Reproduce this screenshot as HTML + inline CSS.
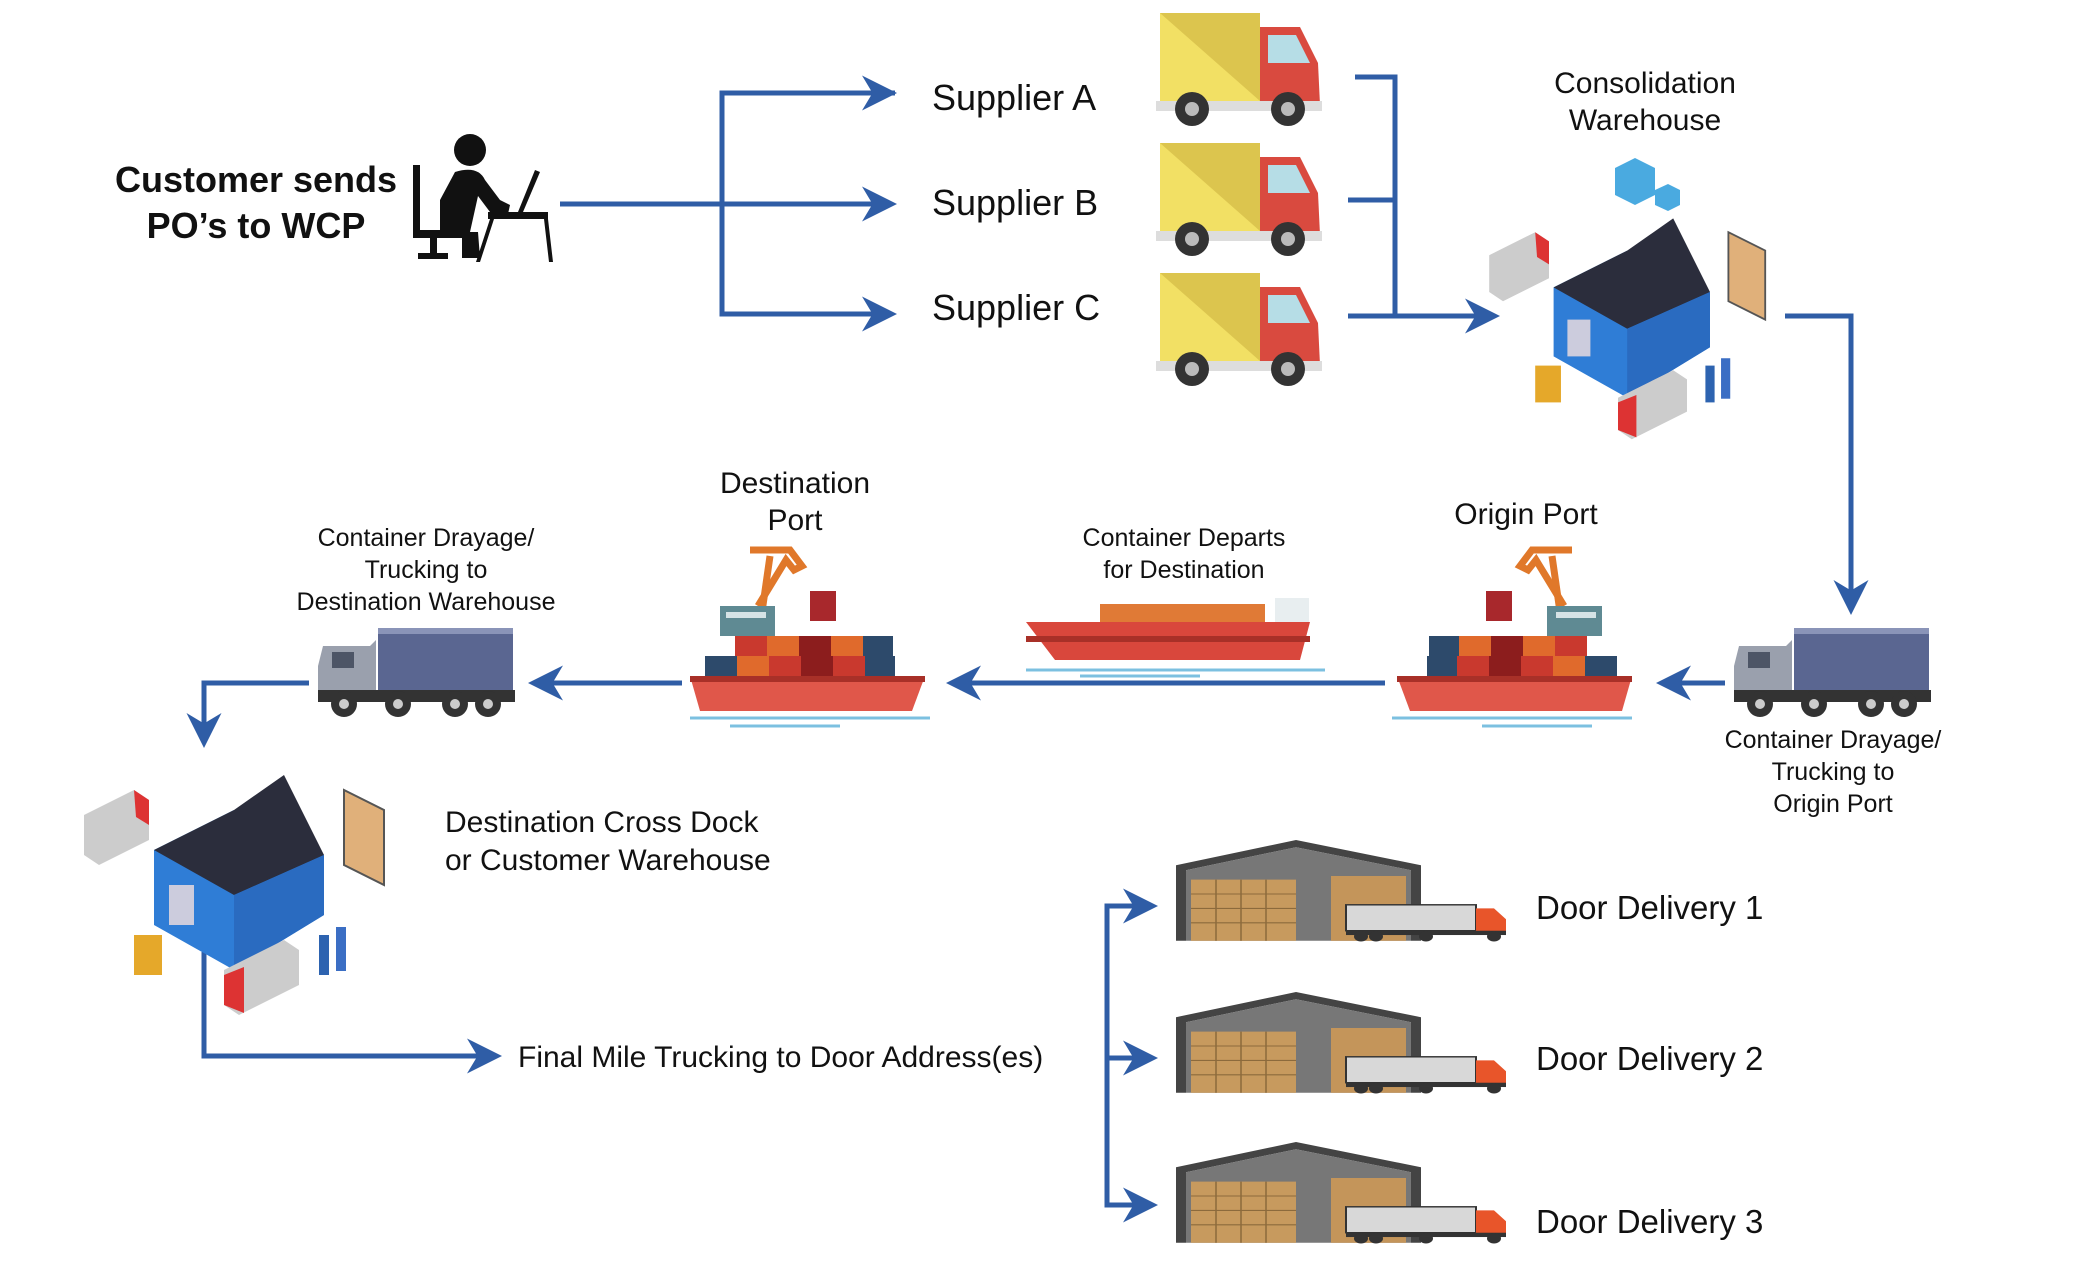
<!DOCTYPE html>
<html><head><meta charset="utf-8"><style>
html,body{margin:0;padding:0;background:#fff;}
svg{display:block}
text{font-family:"Liberation Sans",sans-serif;fill:#111;}
</style></head><body>
<svg width="2078" height="1268" viewBox="0 0 2078 1268" xmlns="http://www.w3.org/2000/svg">
<defs>
<marker id="ah" viewBox="0 0 20 20" refX="16" refY="10" markerWidth="7" markerHeight="7" markerUnits="strokeWidth" orient="auto">
<path d="M0,0 L20,10 L0,20 L6,10 Z" fill="#2f5da6"/>
</marker>
<g id="ytruck">
<rect x="0" y="0" width="100" height="88" fill="#f2e064"/>
<path d="M0,0 L100,0 L100,88 Z" fill="#dcc54e"/>
<path d="M100,14 L140,14 L158,50 L160,92 L100,92 Z" fill="#d94a3f"/>
<path d="M108,22 L136,22 L150,50 L108,50 Z" fill="#b6dde6"/>
<rect x="-4" y="88" width="166" height="10" fill="#ddd"/>
<circle cx="32" cy="96" r="17" fill="#333"/><circle cx="32" cy="96" r="7" fill="#bbb"/>
<circle cx="128" cy="96" r="17" fill="#333"/><circle cx="128" cy="96" r="7" fill="#bbb"/>
</g>
<g id="gtruck">
<rect x="60" y="0" width="135" height="62" fill="#5a6691"/>
<rect x="60" y="0" width="135" height="6" fill="#8a94b8"/>
<path d="M5,18 L52,18 L58,12 L58,68 L0,68 L0,38 Z" fill="#9aa0ad"/>
<rect x="14" y="24" width="22" height="16" fill="#4d5566"/>
<rect x="0" y="62" width="197" height="12" fill="#333"/>
<g fill="#333"><circle cx="26" cy="76" r="13"/><circle cx="80" cy="76" r="13"/><circle cx="137" cy="76" r="13"/><circle cx="170" cy="76" r="13"/></g>
<g fill="#ccc"><circle cx="26" cy="76" r="5"/><circle cx="80" cy="76" r="5"/><circle cx="137" cy="76" r="5"/><circle cx="170" cy="76" r="5"/></g>
</g>
<g id="ship">
<path d="M60,4 L100,4 L112,20 L104,24 L96,14 L68,60" stroke="#e0782a" stroke-width="7" fill="none"/>
<path d="M80,10 L70,80" stroke="#e0782a" stroke-width="7"/>
<rect x="120" y="45" width="26" height="30" fill="#a8282c"/>
<rect x="30" y="60" width="55" height="30" fill="#5f8a93"/>
<rect x="36" y="66" width="40" height="6" fill="#d6e3e6"/>
<g>
<rect x="45" y="90" width="32" height="20" fill="#c9392e"/><rect x="77" y="90" width="32" height="20" fill="#e06a2c"/><rect x="109" y="90" width="32" height="20" fill="#8c1d1d"/><rect x="141" y="90" width="32" height="20" fill="#e06a2c"/><rect x="173" y="90" width="30" height="20" fill="#2d4a6b"/>
<rect x="15" y="110" width="32" height="20" fill="#2d4a6b"/><rect x="47" y="110" width="32" height="20" fill="#e06a2c"/><rect x="79" y="110" width="32" height="20" fill="#c9392e"/><rect x="111" y="110" width="32" height="20" fill="#8c1d1d"/><rect x="143" y="110" width="32" height="20" fill="#c9392e"/><rect x="175" y="110" width="30" height="20" fill="#2d4a6b"/>
</g>
<path d="M0,130 L235,130 L222,165 L10,165 Z" fill="#e0574a"/>
<rect x="0" y="130" width="235" height="6" fill="#a83028"/>
<path d="M0,172 L240,172 M40,180 L150,180" stroke="#7cc0e0" stroke-width="3"/>
</g>
<g id="wh">
<path d="M80,95 L160,55 L250,100 L250,160 L160,215 L80,170 Z" fill="#2f7dd6"/>
<path d="M80,95 L160,55 L210,20 L250,100 L160,140 Z" fill="#2b2d3c"/>
<path d="M160,140 L250,100 L250,160 L160,215 Z" fill="#2a6bc0"/>
<rect x="95" y="130" width="25" height="40" fill="#ccd"/>
<path d="M10,60 L60,35 L75,45 L75,85 L25,110 L10,100 Z" fill="#ccc"/><path d="M60,35 L75,45 L75,70 L62,62 Z" fill="#d33"/>
<path d="M270,35 L310,55 L310,130 L270,110 Z" fill="#e0b07a" stroke="#555" stroke-width="2"/>
<path d="M150,215 L210,185 L225,195 L225,230 L165,260 L150,250 Z" fill="#ccc"/><path d="M150,220 L170,212 L170,258 L150,250 Z" fill="#d33"/>
<rect x="60" y="180" width="28" height="40" fill="#e5a82a"/>
<rect x="245" y="180" width="10" height="40" fill="#2d63b0"/><rect x="262" y="172" width="10" height="44" fill="#3b6ec4"/>
</g>
<g id="door">
<path d="M0,35 L120,0 L245,35 L245,140 L235,140 L235,42 L120,10 L10,42 L10,140 L0,140 Z" fill="#444"/>
<path d="M10,42 L120,10 L235,42 L235,140 L10,140 Z" fill="#777"/>
<rect x="15" y="55" width="105" height="85" fill="#c79a5e"/>
<rect x="155" y="50" width="75" height="90" fill="#c4955a"/>
<g stroke="#8c6a3c" stroke-width="1.5"><path d="M15,75 H120 M15,95 H120 M15,115 H120 M40,55 V140 M65,55 V140 M90,55 V140"/></g>
<rect x="170" y="90" width="130" height="36" fill="#d8d8d8" stroke="#333" stroke-width="2"/>
<path d="M300,95 L318,95 L330,110 L330,128 L300,128 Z" fill="#e8552a"/>
<rect x="170" y="126" width="160" height="6" fill="#333"/>
<g fill="#333"><circle cx="185" cy="134" r="7"/><circle cx="200" cy="134" r="7"/><circle cx="250" cy="134" r="7"/><circle cx="318" cy="134" r="7"/></g>
</g>
</defs>

<!-- connectors -->
<g stroke="#2f5da6" stroke-width="5" fill="none">
<path d="M560,204 H890" marker-end="url(#ah)"/>
<path d="M895,93 H722 V314 H890" marker-end="url(#ah)"/>
<path d="M722,93 H890" marker-end="url(#ah)"/>
<path d="M1355,77 H1395 V316" />
<path d="M1348,200 H1395"/>
<path d="M1348,316 H1493" marker-end="url(#ah)"/>
<path d="M1785,316 H1851 V608" marker-end="url(#ah)"/>
<path d="M1725,683 H1663" marker-end="url(#ah)"/>
<path d="M1385,683 H953" marker-end="url(#ah)"/>
<path d="M682,683 H535" marker-end="url(#ah)"/>
<path d="M309,683 H204 V741" marker-end="url(#ah)"/>
<path d="M204,952 V1056 H495" marker-end="url(#ah)"/>
<path d="M1151,906 H1107 V1205 H1151" marker-end="url(#ah)"/>
<path d="M1107,1058 H1151" marker-end="url(#ah)"/>
<path d="M1107,906 H1151" marker-end="url(#ah)"/>
</g>

<!-- customer -->
<text x="256" y="192" font-size="36" font-weight="bold" text-anchor="middle">Customer sends</text>
<text x="256" y="238" font-size="36" font-weight="bold" text-anchor="middle">PO’s to WCP</text>
<g fill="#111">
<circle cx="470" cy="150" r="16"/>
<path d="M455,172 Q478,165 485,180 L500,200 L510,205 L508,214 L490,212 L478,196 L470,232 L478,232 L480,258 L462,258 L462,238 L440,238 L440,200 Z"/>
<rect x="413" y="165" width="7" height="70"/>
<rect x="413" y="230" width="45" height="8"/><rect x="430" y="235" width="7" height="22"/><rect x="418" y="253" width="30" height="6"/>
<rect x="488" y="212" width="60" height="7"/>
<path d="M535,170 L540,172 L523,212 L518,212 Z"/>
<path d="M490,219 L494,219 L480,262 L476,262 Z M544,219 L548,219 L553,262 L549,262 Z"/>
</g>

<!-- suppliers -->
<text x="932" y="110" font-size="36">Supplier A</text>
<text x="932" y="215" font-size="36">Supplier B</text>
<text x="932" y="320" font-size="36">Supplier C</text>
<use href="#ytruck" x="1160" y="13"/>
<use href="#ytruck" x="1160" y="143"/>
<use href="#ytruck" x="1160" y="273"/>

<text x="1645" y="93" font-size="30" text-anchor="middle">Consolidation</text>
<text x="1645" y="130" font-size="30" text-anchor="middle">Warehouse</text>
<path d="M1615,168 L1635,158 L1655,168 L1655,195 L1635,205 L1615,195 Z" fill="#4aaae0"/>
<path d="M1655,190 L1668,184 L1680,190 L1680,205 L1668,211 L1655,205 Z" fill="#4aaae0"/>
<use href="#wh" x="1480" y="200" transform="translate(1480 200) scale(0.92) translate(-1480 -200)"/>

<use href="#gtruck" x="1734" y="628"/>
<text x="1833" y="748" font-size="25" text-anchor="middle">Container Drayage/</text>
<text x="1833" y="780" font-size="25" text-anchor="middle">Trucking to</text>
<text x="1833" y="812" font-size="25" text-anchor="middle">Origin Port</text>

<text x="1526" y="524" font-size="30" text-anchor="middle">Origin Port</text>
<g transform="translate(1632 546) scale(-1 1)"><use href="#ship"/></g>

<text x="1184" y="546" font-size="25" text-anchor="middle">Container Departs</text>
<text x="1184" y="578" font-size="25" text-anchor="middle">for Destination</text>
<path d="M1026,622 L1310,622 L1300,660 L1055,660 Z" fill="#d9473c"/>
<rect x="1026" y="636" width="284" height="6" fill="#a83028"/>
<rect x="1100" y="604" width="165" height="18" fill="#e07a36"/>
<rect x="1275" y="598" width="34" height="24" fill="#e8eef0"/>
<path d="M1026,670 L1325,670 M1080,676 L1200,676" stroke="#7cc0e0" stroke-width="3"/>

<text x="795" y="493" font-size="30" text-anchor="middle">Destination</text>
<text x="795" y="530" font-size="30" text-anchor="middle">Port</text>
<use href="#ship" x="690" y="546"/>

<use href="#gtruck" x="318" y="628"/>
<text x="426" y="546" font-size="25" text-anchor="middle">Container Drayage/</text>
<text x="426" y="578" font-size="25" text-anchor="middle">Trucking to</text>
<text x="426" y="610" font-size="25" text-anchor="middle">Destination Warehouse</text>

<use href="#wh" x="74" y="755"/>
<text x="445" y="832" font-size="30">Destination Cross Dock</text>
<text x="445" y="870" font-size="30">or Customer Warehouse</text>

<text x="518" y="1067" font-size="30">Final Mile Trucking to Door Address(es)</text>

<g transform="translate(1176 840) scale(1 0.72)"><use href="#door"/></g>
<g transform="translate(1176 992) scale(1 0.72)"><use href="#door"/></g>
<g transform="translate(1176 1142) scale(1 0.72)"><use href="#door"/></g>
<text x="1536" y="919" font-size="33">Door Delivery 1</text>
<text x="1536" y="1070" font-size="33">Door Delivery 2</text>
<text x="1536" y="1233" font-size="33">Door Delivery 3</text>
</svg>
</body></html>
